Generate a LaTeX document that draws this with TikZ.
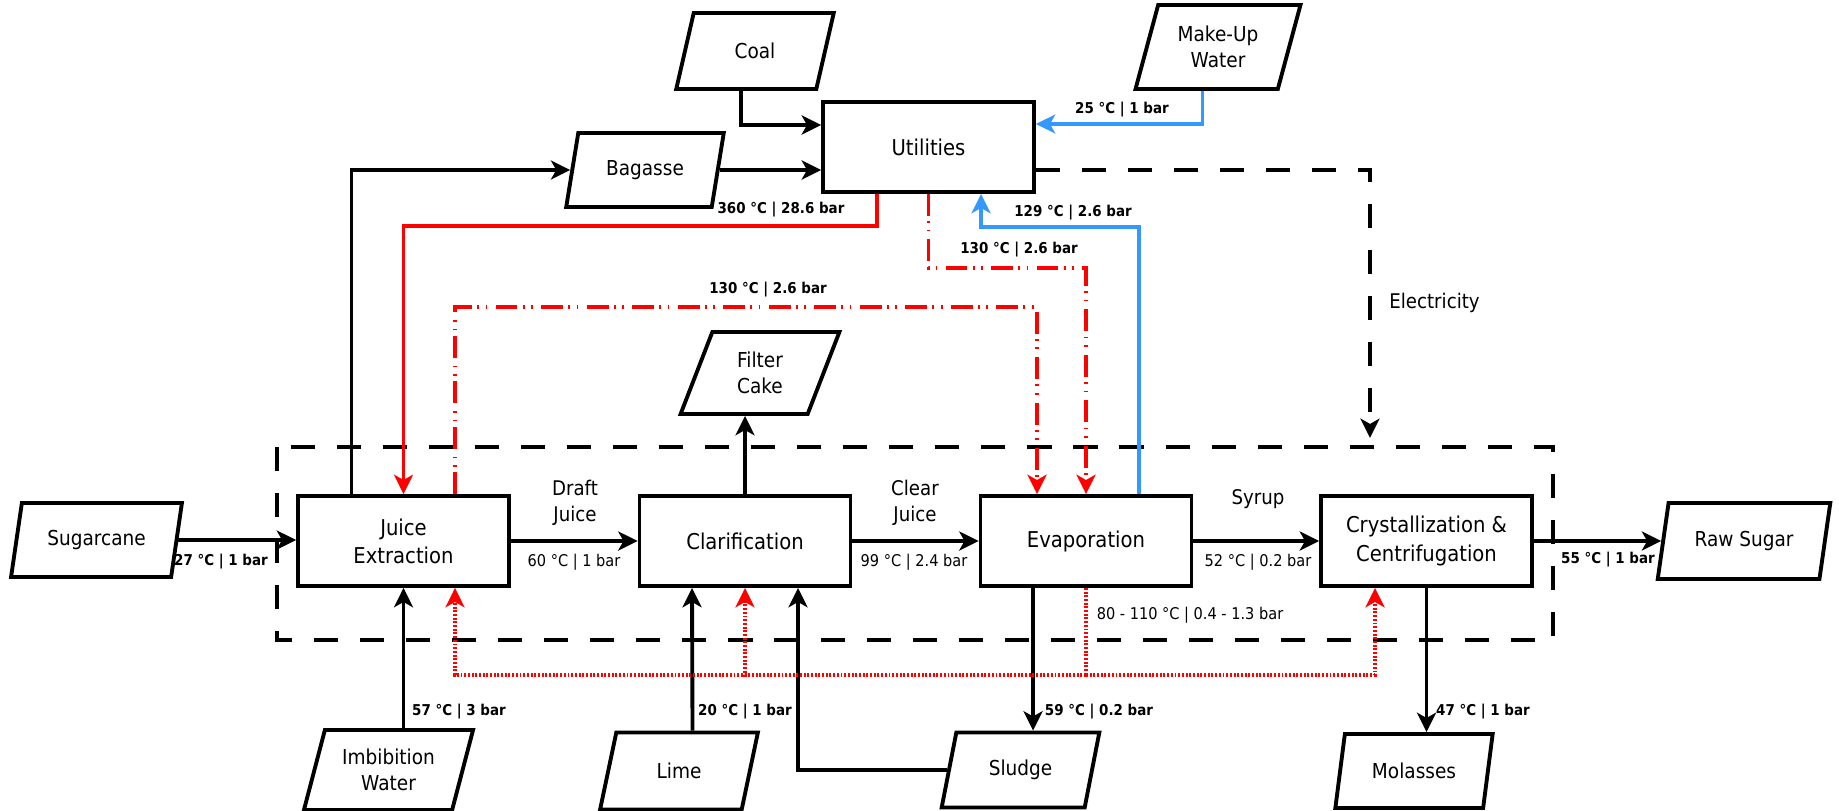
\documentclass[tikz,border=0pt]{standalone}
\usepackage{fontspec}
\setmainfont{DejaVu Sans}[FakeStretch=0.9]
\usetikzlibrary{shapes.geometric,arrows.meta,calc}
\definecolor{steamred}{RGB}{255,0,0}
\definecolor{waterblue}{RGB}{51,153,255}

\begin{document}
\begin{tikzpicture}[
    x=0.02cm, y=-0.02cm,
    unit/.style={draw, line width=2.2pt, minimum width=4.22cm, minimum height=1.8cm, inner sep=0pt, align=center, font=\fontsize{12.4}{16}\selectfont},
    stream/.style={draw, line width=2.2pt, trapezium, trapezium left angle=70, trapezium right angle=110, trapezium stretches=true, minimum width=3.16cm, minimum height=1.5cm, inner sep=0pt, align=center, font=\fontsize{11.7}{14.8}\selectfont},
    flow/.style={line width=2.2pt, -{Stealth[length=11pt, width=10.8pt, inset=3pt]}},
    hot/.style={draw=steamred, line width=2pt},
    steam/.style={hot, dash pattern=on 12.5pt off 3pt on 1pt off 3.8pt on 1pt off 4.6pt},
    cond/.style={hot, dash pattern=on 1.1pt off 1pt},
    cold/.style={draw=waterblue, line width=2pt},
    tipped/.style={-{Stealth[length=11pt, width=10.8pt, inset=3pt]}},
    boundary/.style={line width=2.2pt, dash pattern=on 13.7pt off 12.5pt},
    lbl/.style={font=\fontsize{8.5}{10}\selectfont\bfseries},
    note/.style={font=\fontsize{9.2}{11}\selectfont},
    tag/.style={align=center, font=\fontsize{11.5}{14.8}\selectfont}
]
    \useasboundingbox (0,0) rectangle (1839,811);

    % Plant boundary
    \draw[boundary] (277,447) rectangle (1553,640);

    % Process units
    \node[unit] (juice) at (403.5,541) {Juice\\Extraction};
    \node[unit] (clar) at (745,541) {Clarification};
    \node[unit] (evap) at (1086,541) {Evaporation};
    \node[unit] (cryst) at (1426.5,541) {Crystallization \&\\Centrifugation};
    \node[unit] (util) at (928.5,147) {Utilities};

    % Streams in / out
    \node[stream, minimum width=3.42cm, minimum height=1.48cm] (cane) at (96.5,540) {Sugarcane};
    \node[stream, minimum width=3.46cm, minimum height=1.52cm] (sugar) at (1744,541) {Raw Sugar};
    \node[stream, minimum height=1.48cm] (bag) at (645,170) {Bagasse};
    \node[stream, minimum height=1.52cm] (coal) at (755,51) {Coal};
    \node[stream, minimum width=3.32cm, minimum height=1.68cm] (water) at (1218,47) {Make-Up\\Water};
    \node[stream, minimum width=3.18cm, minimum height=1.64cm] (cake) at (760,373) {Filter\\Cake};
    \node[stream, minimum width=3.4cm, minimum height=1.6cm] (imb) at (388.5,770) {Imbibition\\Water};
    \node[stream, minimum height=1.54cm] (lime) at (679,771) {Lime};
    \node[stream] (sludge) at (1020.5,770) {Sludge};
    \node[stream, minimum height=1.48cm] (mol) at (1414,771) {Molasses};

    % Main line
    \draw[flow] (cane.east) -- (cane.east -| juice.west);
    \draw[flow] (juice) -- (clar);
    \draw[flow] (clar) -- (evap);
    \draw[flow] (evap) -- (cryst);
    \draw[flow] (cryst.east) -- (cryst.east -| sugar.west);

    % Side streams
    \draw[flow] ($(juice.north)+(-52,0)$) |- (bag.west);
    \draw[flow] (bag.east) -- (bag.east -| util.west);
    \draw[flow] ($(coal.south)+(-14,0)$) |- ($(util.west)+(0,-22)$);
    \draw[flow] (clar.north) -- (clar.north |- cake.south);
    \draw[flow] (juice.south |- imb.north) -- (juice.south);
    \draw[flow] ($(lime.north)+(13.5,0)$) -- ($(clar.south)+(-53,0)$);
    \draw[flow] (sludge.west) -| ($(clar.south)+(53,0)$);
    \coordinate (evs) at ($(evap.south)+(-53,0)$);
    \draw[flow] (evs) -- (evs |- sludge.north);
    \draw[flow] (cryst.south) -- (cryst.south |- mol.north);

    % Utilities
    \draw[cold, tipped] ($(water.south)+(-15.5,0)$) |- ($(util.east)+(0,-23)$);
    \draw[hot, tipped] ($(util.south)+(-51.5,0)$) -- ++(0,32) -| (juice.north);
    \draw[steam, tipped] ($(juice.north)+(51.5,0)$) -- ++(0,-187) -| ($(evap.north)+(-49,0)$);
    \draw[steam, tipped] (util.south) -- ++(0,74) -| (evap.north);
    \draw[cold, tipped] ($(evap.north)+(53,0)$) -- ++(0,-267) -| ($(util.south)+(52.5,0)$);
    \coordinate (elec) at (1370,438);
    \draw[boundary, tipped] ($(util.east)+(0,23)$) -| (elec);

    % Condensate return
    \coordinate (ret) at ($(evap.south)+(0,87)$);
    \draw[cond] (evap.south) -- (ret);
    \draw[cond, tipped] (ret) -| ($(juice.south)+(51.5,0)$);
    \draw[cond, tipped] (ret) -| (clar.south);
    \draw[cond, tipped] (ret) -| ($(cryst.south)+(-51.5,0)$);

    % Labels
    \node[lbl] at (221,562) {27 °C | 1 bar};
    \node[tag] at (575,503) {Draft\\Juice};
    \node[note] at (574,562) {60 °C | 1 bar};
    \node[tag] at (915,503) {Clear\\Juice};
    \node[note] at (914,562) {99 °C | 2.4 bar};
    \node[tag] at (1258,499) {Syrup};
    \node[note] at (1258,562) {52 °C | 0.2 bar};
    \node[lbl] at (1608,560) {55 °C | 1 bar};
    \node[lbl] at (459,712) {57 °C | 3 bar};
    \node[lbl] at (745,712) {20 °C | 1 bar};
    \node[lbl] at (1099,712) {59 °C | 0.2 bar};
    \node[lbl] at (1483,712) {47 °C | 1 bar};
    \node[note] at (1190,615) {80 - 110 °C | 0.4 - 1.3 bar};
    \node[lbl] at (781,210) {360 °C | 28.6 bar};
    \node[lbl] at (768,290) {130 °C | 2.6 bar};
    \node[lbl] at (1019,250) {130 °C | 2.6 bar};
    \node[lbl] at (1073,213) {129 °C | 2.6 bar};
    \node[lbl] at (1122,110) {25 °C | 1 bar};
    \node[tag, anchor=west, inner sep=0pt] at (1389,303) {Electricity};
\end{tikzpicture}
\end{document}
